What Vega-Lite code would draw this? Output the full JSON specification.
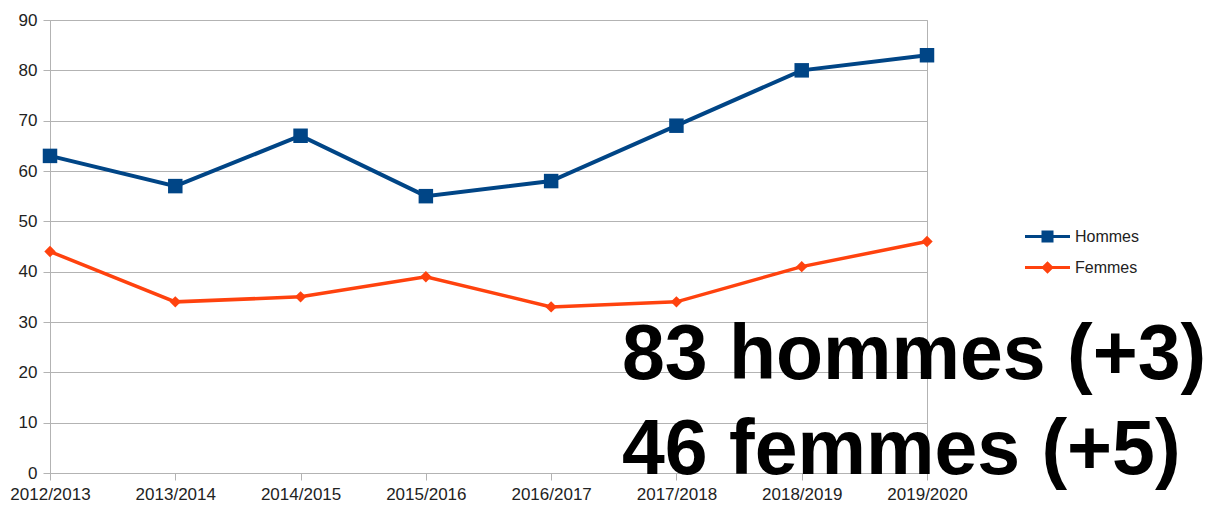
{
  "$schema": "https://vega.github.io/schema/vega-lite/v6.json",
  "width": 877,
  "height": 453,
  "autosize": {"type": "none"},
  "padding": {"left": 50, "top": 20, "right": 287, "bottom": 33},
  "background": "white",
  "config": {
    "view": {"stroke": "#b3b3b3", "strokeWidth": 1},
    "font": "Liberation Sans",
    "axis": {"labelFont": "Liberation Sans", "labelColor": "#222222", "tickColor": "#b3b3b3", "domainColor": "#b3b3b3", "gridColor": "#b3b3b3", "gridOpacity": 1, "tickSize": 7},
    "legend": {
      "title": null, "orient": "none", "legendX": 975, "legendY": 194,
      "symbolSize": 2025, "labelFontSize": 16, "labelFont": "Liberation Sans", "labelColor": "#222222", "labelOffset": 5, "rowPadding": -3,
      "symbolStrokeWidth": 0
    }
  },
  "datasets": {
    "effectifs": [
      {"annee": "2012/2013", "serie": "Hommes", "valeur": 63},
      {"annee": "2013/2014", "serie": "Hommes", "valeur": 57},
      {"annee": "2014/2015", "serie": "Hommes", "valeur": 67},
      {"annee": "2015/2016", "serie": "Hommes", "valeur": 55},
      {"annee": "2016/2017", "serie": "Hommes", "valeur": 58},
      {"annee": "2017/2018", "serie": "Hommes", "valeur": 69},
      {"annee": "2018/2019", "serie": "Hommes", "valeur": 80},
      {"annee": "2019/2020", "serie": "Hommes", "valeur": 83},
      {"annee": "2012/2013", "serie": "Femmes", "valeur": 44},
      {"annee": "2013/2014", "serie": "Femmes", "valeur": 34},
      {"annee": "2014/2015", "serie": "Femmes", "valeur": 35},
      {"annee": "2015/2016", "serie": "Femmes", "valeur": 39},
      {"annee": "2016/2017", "serie": "Femmes", "valeur": 33},
      {"annee": "2017/2018", "serie": "Femmes", "valeur": 34},
      {"annee": "2018/2019", "serie": "Femmes", "valeur": 41},
      {"annee": "2019/2020", "serie": "Femmes", "valeur": 46}
    ],
    "annotation": [{"texte": "83 hommes (+3)\n46 femmes (+5)"}]
  },
  "layer": [
    {
      "data": {"name": "effectifs"},
      "mark": {"type": "line"},
      "encoding": {
        "x": {"field": "annee", "type": "ordinal", "sort": null, "scale": {"type": "point", "padding": 0},
              "axis": {"title": null, "labelAngle": 0, "labelFontSize": 17, "labelPadding": 6, "grid": false}},
        "y": {"field": "valeur", "type": "quantitative", "scale": {"domain": [0, 90], "nice": false},
              "axis": {"title": null, "values": [0, 10, 20, 30, 40, 50, 60, 70, 80, 90], "labelFontSize": 17, "labelPadding": 6, "grid": true}},
        "strokeWidth": {"condition": {"test": "datum.serie === 'Hommes'", "value": 4}, "value": 3.5},
        "color": {"field": "serie", "type": "nominal", "scale": {"domain": ["Hommes", "Femmes"], "range": ["#004586", "#ff420e"]},
          "legend": {
            "encode": {"symbols": {"update": {
              "shape": {"signal": "datum.value === 'Hommes' ? 'M-1,-0.067H1V0.067H-1Z M-0.267,-0.267H0.267V0.267H-0.267Z' : 'M-1,-0.067H1V0.067H-1Z M0,-0.28L0.28,0L0,0.28L-0.28,0Z'"},
              "fill": {"signal": "datum.value === 'Hommes' ? '#004586' : '#ff420e'"},
              "fillOpacity": {"value": 1},
              "opacity": {"value": 1},
              "strokeWidth": {"value": 0}
            }}}
          }
        }
      }
    },
    {
      "data": {"name": "effectifs"},
      "mark": {"type": "point", "filled": true, "opacity": 1},
      "encoding": {
        "x": {"field": "annee", "type": "ordinal", "sort": null},
        "y": {"field": "valeur", "type": "quantitative"},
        "color": {"field": "serie", "type": "nominal",
          "legend": {
            "encode": {"symbols": {"update": {
              "shape": {"signal": "datum.value === 'Hommes' ? 'M-1,-0.067H1V0.067H-1Z M-0.267,-0.267H0.267V0.267H-0.267Z' : 'M-1,-0.067H1V0.067H-1Z M0,-0.28L0.28,0L0,0.28L-0.28,0Z'"},
              "fill": {"signal": "datum.value === 'Hommes' ? '#004586' : '#ff420e'"},
              "fillOpacity": {"value": 1},
              "opacity": {"value": 1},
              "strokeWidth": {"value": 0}
            }}}
          }
        },
        "shape": {"condition": {"test": "datum.serie === 'Hommes'", "value": "square"}, "value": "diamond"},
        "size": {"condition": {"test": "datum.serie === 'Hommes'", "value": 210}, "value": 130}
      }
    },
    {
      "data": {"name": "annotation"},
      "mark": {"type": "text", "align": "left", "baseline": "alphabetic", "lineBreak": "\n", "lineHeight": 95,
               "fontSize": 77, "fontWeight": "bold", "font": "Liberation Sans", "dx": -305, "color": "black"},
      "encoding": {
        "x": {"datum": "2019/2020", "type": "ordinal"},
        "y": {"datum": 18.7, "type": "quantitative"},
        "text": {"field": "texte"}
      }
    }
  ]
}
